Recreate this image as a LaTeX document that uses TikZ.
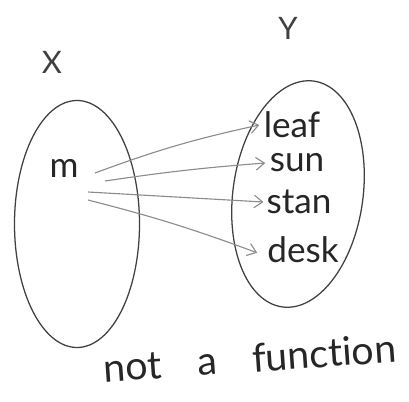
\documentclass[tikz,border=0pt]{standalone}
\usepackage{fontspec}
\setmainfont[Ligatures=NoCommon]{Lato}
\usetikzlibrary{shapes.geometric,arrows.meta}
\tikzset{
  setshape/.style={ellipse, draw=black!75, line width=0.9pt, inner sep=0pt},
  lbl/.style={font=\fontsize{25}{27}\selectfont, text=black!85, inner sep=1pt},
  setlbl/.style={font=\fontsize{22}{24}\selectfont, text=black!75, inner sep=1pt},
  arr/.style={draw=black!45, line width=0.8pt, -{Straight Barb[length=6pt,width=9pt]}},
}
\begin{document}
\begin{tikzpicture}[x=0.025cm,y=-0.025cm]
\useasboundingbox (0,0) rectangle (409,402);
% sets
\node[setshape, minimum width=125*0.025cm, minimum height=247*0.025cm] (X) at (77,224) {};
\node[setshape, minimum width=130*0.025cm, minimum height=228*0.025cm, rotate=-8] (Y) at (298,194) {};
% set labels
\node[setlbl] (xl) at (52,62) {X};
\node[setlbl] (yl) at (288,28) {Y};
% elements
\node[lbl] (m) at (64,168) {m};
\node[lbl] (leaf) at (292,125) {leaf};
\node[lbl] (sun) at (297,163) {sun};
\node[lbl] (stan) at (299,202) {stan};
\node[lbl] (desk) at (303,250) {desk};
% arrow starts
\coordinate (s1) at (95,173);
\coordinate (s2) at (105,181);
\coordinate (s3) at (88,192);
\coordinate (s4) at (88,200);
\draw[arr] (s1) to[bend left=4] ([xshift=-2pt]leaf.west);
\draw[arr] (s2) to[bend left=2] ([xshift=-2pt]sun.west);
\draw[arr] (s3) -- ([xshift=-1pt]stan.west);
\draw[arr] (s4) to[bend left=3] ([xshift=-6pt,yshift=-2pt]desk.west);
% caption
\node[lbl, rotate=4, font=\fontsize{28}{30}\selectfont] (cap) at (250,358) {\spaceskip=0.9em not a function};
\end{tikzpicture}
\end{document}
